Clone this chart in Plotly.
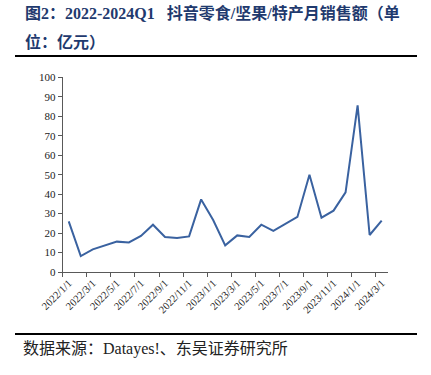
import plotly.graph_objects as go

W, H = 431, 375

months = ["2022/1/1", "2022/2/1", "2022/3/1", "2022/4/1", "2022/5/1", "2022/6/1",
          "2022/7/1", "2022/8/1", "2022/9/1", "2022/10/1", "2022/11/1", "2022/12/1",
          "2023/1/1", "2023/2/1", "2023/3/1", "2023/4/1", "2023/5/1", "2023/6/1",
          "2023/7/1", "2023/8/1", "2023/9/1", "2023/10/1", "2023/11/1", "2023/12/1",
          "2024/1/1", "2024/2/1", "2024/3/1"]
sales = [26.0, 8.2, 11.6, 13.5, 15.6, 15.2, 18.5, 24.3, 18.0, 17.5, 18.3, 37.3,
         26.7, 13.7, 18.8, 18.0, 24.3, 21.1, 24.7, 28.3, 50.0, 27.9, 31.5, 40.9,
         85.6, 19.0, 26.4]
y_ticks = list(range(0, 101, 10))

title_line1 = "图2：2022-2024Q1\u00a0\u00a0\u00a0抖音零食/坚果/特产月销售额（单"
title_line2 = "位：亿元）"
source_text = "数据来源：Datayes!、东吴证券研究所"

serif = "Liberation Serif, Times New Roman, Noto Sans CJK SC, serif"
cjk = "Liberation Serif, Noto Sans CJK SC, sans-serif"


def px(xp):
    return xp / W


def py(yp):
    return 1 - yp / H


fig = go.Figure()
fig.add_trace(go.Scatter(
    x=months, y=sales, mode="lines",
    line=dict(color="#3A62A0", width=2),
    hoverinfo="skip", showlegend=False,
))

px_l, px_r, px_t, px_b = 62.7, 387.7, 77.3, 272.0

fig.update_layout(
    width=W, height=H,
    margin=dict(l=0, r=0, t=0, b=0, autoexpand=False),
    paper_bgcolor="white", plot_bgcolor="white",
    hovermode=False,
    xaxis=dict(
        domain=[px(px_l), px(px_r)],
        automargin=False,
        type="category",
        categoryorder="array", categoryarray=months,
        range=[-0.5, len(months) - 0.5],
        tickmode="linear", tick0=0, dtick=2,
        tickson="boundaries",
        ticks="outside", ticklen=4, tickcolor="#595959", tickwidth=1,
        showline=True, linecolor="#595959", linewidth=1,
        showgrid=False, zeroline=False,
        tickangle=-45,
        tickfont=dict(family=serif, size=10.5, color="#222222"),
    ),
    yaxis=dict(
        domain=[py(px_b), py(px_t)],
        automargin=False,
        range=[0, 100],
        tickvals=y_ticks,
        ticks="outside", ticklen=4, tickcolor="#595959", tickwidth=1,
        showline=True, linecolor="#595959", linewidth=1,
        showgrid=False, zeroline=False,
        tickfont=dict(family=serif, size=11, color="#222222"),
    ),
)

# header / footer text
fig.add_annotation(text=title_line1, xref="paper", yref="paper",
                   x=px(23), y=py(13), xanchor="left", yanchor="middle",
                   showarrow=False,
                   font=dict(family=cjk, size=16, color="#1F3A6E", weight="bold"))
fig.add_annotation(text=title_line2, xref="paper", yref="paper",
                   x=px(23), y=py(42), xanchor="left", yanchor="middle",
                   showarrow=False,
                   font=dict(family=cjk, size=16, color="#1F3A6E", weight="bold"))
fig.add_annotation(text=source_text, xref="paper", yref="paper",
                   x=px(21), y=py(349), xanchor="left", yanchor="middle",
                   showarrow=False,
                   font=dict(family=cjk, size=16, color="#222222"))

# separator rules
for ypx in (56, 334):
    fig.add_shape(type="line", xref="paper", yref="paper",
                  x0=px(15), x1=px(417), y0=py(ypx), y1=py(ypx),
                  line=dict(color="black", width=2))

fig.write_html("out.html",
               config={"displayModeBar": False, "staticPlot": True},
               post_script="document.body.style.margin='0';")
